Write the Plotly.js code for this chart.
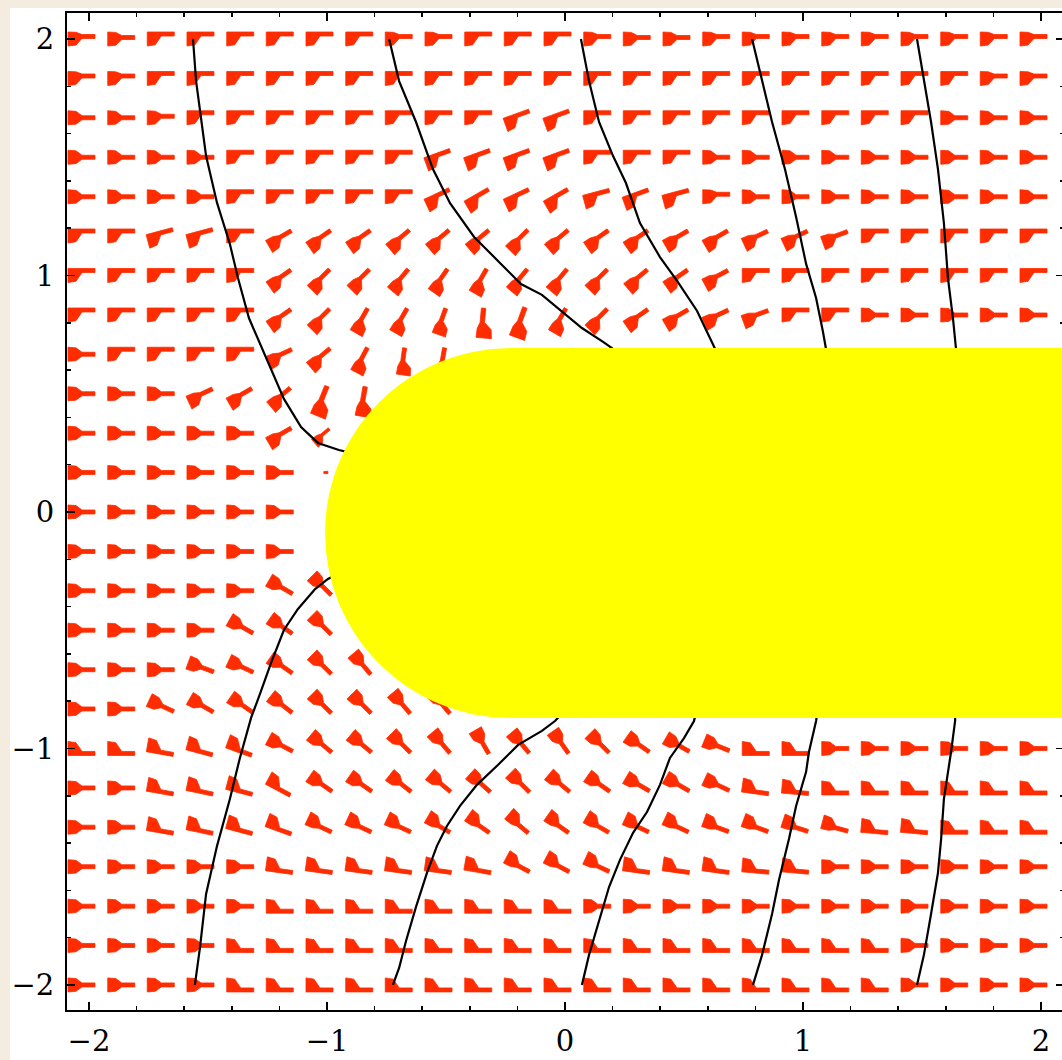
<!DOCTYPE html>
<html><head><meta charset="utf-8">
<script src="https://cdn.plot.ly/plotly-3.0.1.min.js"></script>
<style>
html,body{margin:0;padding:0;background:#f3ecdf;overflow:hidden;width:1062px;height:1060px;}
#chart{position:absolute;left:10px;top:8px;width:1060px;height:1052px;}
</style>
</head><body><div id="chart"></div>
<script>
const N = null;
// grid positions (data units)
const gridX = [-2,-1.833,-1.667,-1.5,-1.333,-1.167,-1,-0.833,-0.667,-0.5,-0.333,-0.167,0,0.167,0.333,0.5,0.667,0.833,1,1.167,1.333,1.5,1.667,1.833,2];
const gridY = [2,1.833,1.667,1.5,1.333,1.167,1,0.833,0.667,0.5,0.333,0.167,0,-0.167,-0.333,-0.5,-0.667,-0.833,-1,-1.167,-1.333,-1.5,-1.667,-1.833,-2];

// arrow direction (degrees, counter-clockwise from +x); null = hidden by the conductor
const arrowAngle = [
 [0,0,0,0,0,0,0,0,0,0,0,0,0,0,0,0,0,0,0,0,0,0,0,0,0],
 [0,0,0,0,0,0,0,0,0,0,0,0,0,0,0,0,0,0,0,0,0,0,0,0,0],
 [0,0,0,0,0,0,0,0,0,0,0,20,20,0,0,0,0,0,0,0,0,0,0,0,0],
 [0,0,0,0,0,0,0,0,0,20,20,20,20,0,0,0,0,0,0,0,0,0,0,0,0],
 [0,0,0,0,0,0,0,0,0,25,30,25,30,15,20,15,0,0,0,0,0,0,0,0,0],
 [0,0,15,15,0,30,35,35,40,40,40,45,40,35,35,30,30,25,25,20,0,0,0,0,0],
 [0,0,0,0,0,35,45,45,50,55,60,50,50,45,40,35,28,0,0,0,0,0,0,0,0],
 [0,0,0,0,0,35,45,60,60,70,85,70,60,45,35,30,25,20,0,0,0,0,0,0,0],
 [0,0,0,0,0,25,40,62,82,80,N,N,N,N,N,N,N,N,N,N,N,N,N,N,N],
 [0,0,0,25,30,40,68,80,N,N,N,N,N,N,N,N,N,N,N,N,N,N,N,N,N],
 [0,0,0,0,0,30,40,N,N,N,N,N,N,N,N,N,N,N,N,N,N,N,N,N,N],
 [0,0,0,0,0,0,0,N,N,N,N,N,N,N,N,N,N,N,N,N,N,N,N,N,N],
 [0,0,0,0,0,0,N,N,N,N,N,N,N,N,N,N,N,N,N,N,N,N,N,N,N],
 [0,0,0,0,0,0,N,N,N,N,N,N,N,N,N,N,N,N,N,N,N,N,N,N,N],
 [0,0,0,0,0,-30,-45,N,N,N,N,N,N,N,N,N,N,N,N,N,N,N,N,N,N],
 [0,0,0,0,-30,-35,-45,N,N,N,N,N,N,N,N,N,N,N,N,N,N,N,N,N,N],
 [0,0,0,-20,-25,-35,-45,-50,N,N,N,N,N,N,N,N,N,N,N,N,N,N,N,N,N],
 [0,0,-25,-30,-35,-38,-45,-45,-50,-50,N,N,N,N,N,N,N,N,N,N,N,N,N,N,N],
 [0,0,-10,-15,-20,-28,-40,-40,-45,-50,-60,-50,-55,-45,-35,-30,-22,0,0,0,0,0,0,0,0],
 [0,0,-10,-12,-15,-28,-35,-35,-38,-40,-42,-45,-40,-35,-30,-30,-25,-8,-5,0,0,0,0,0,0],
 [0,0,-10,-12,-15,-20,-25,-25,-25,-30,-35,-40,-35,-30,-25,-25,-20,-20,-18,-15,-5,-5,0,0,0],
 [0,0,0,0,0,-8,-8,-8,-8,-8,-10,-28,-28,-25,-8,-8,-8,-5,-5,0,0,0,0,0,0],
 [0,0,0,0,0,0,0,0,0,0,0,0,0,0,0,0,0,0,0,0,0,0,0,0,0],
 [0,0,0,0,0,0,0,0,0,0,0,0,0,0,0,0,0,0,0,0,0,0,0,0,0],
 [0,0,0,0,0,0,0,0,0,0,0,0,0,0,0,0,0,0,0,0,0,0,0,0,0]
];

// which side of the glyph the thin stroke sits on (+1 left/top, 0 middle, -1 right/bottom)
const arrowSide = [
 [0.5,0.3,1,1,1,1,1,1,0.5,0.5,1,1,1,0.5,0.3,0.3,0.5,0.5,0.5,0.5,0.5,0.5,0.5,0.5,0.5],
 [0.5,0.5,1,1,1,1,1,1,1,1,1,1,1,1,1,1,1,1,1,1,1,1,1,0.5,0.5],
 [0,0,0.3,1,1,1,1,1,1,1,1,1,1,1,1,1,1,1,1,1,1,1,0,0,0],
 [0,0,0,0,1,1,1,1,1,1,1,1,1,1,1,1,0,0,0,0,0,0,0,0,0],
 [0,0,0,0,1,1,1,1,1,1,1,1,1,1,1,1,0.5,0,0,0,0,0,0,0,0],
 [1,1,1,1,1,0.5,0.5,0.5,0.5,0.5,0.5,0.5,0.5,0.5,0.5,0.5,0.5,0.5,0.5,0.5,1,1,1,1,1],
 [1,1,1,1,1,0.5,0.5,0.5,0.5,0.5,0.5,0.5,0.5,0.5,0.5,0.5,0.5,1,1,1,1,1,1,1,1],
 [1,1,1,1,1,0.5,0.5,0.5,0.5,0.5,0.5,0.5,0.5,0.5,0.5,0.5,0.5,0.5,1,1,0,0,0,0,0],
 [0,1,1,1,1,0.5,0.5,0.5,0.5,0.5,0,0,0,0,0,0,0,0,0,0,0,0,0,0,0],
 [0,0,0,0.5,0.5,0.5,0.5,0.5,0,0,0,0,0,0,0,0,0,0,0,0,0,0,0,0,0],
 [0,0,0,0,0,0.5,0.5,0,0,0,0,0,0,0,0,0,0,0,0,0,0,0,0,0,0],
 [0,0,0,0,0,0,0,0,0,0,0,0,0,0,0,0,0,0,0,0,0,0,0,0,0],
 [0,0,0,0,0,0,0,0,0,0,0,0,0,0,0,0,0,0,0,0,0,0,0,0,0],
 [0,0,0,0,0,0,0,0,0,0,0,0,0,0,0,0,0,0,0,0,0,0,0,0,0],
 [0,0,0,0,0,0,0,0,0,0,0,0,0,0,0,0,0,0,0,0,0,0,0,0,0],
 [0,0,0,0,0,0,0,0,0,0,0,0,0,0,0,0,0,0,0,0,0,0,0,0,0],
 [0,0,0,0,0,0,0,0,0,0,0,0,0,0,0,0,0,0,0,0,0,0,0,0,0],
 [0,0,0,0,0,0,0,0,0,0,0,0,0,0,0,0,0,0,0,0,0,0,0,0,0],
 [-1,-1,-1,-1,-1,0,0,0,0,0,0,0,0,0,0,0,0,-1,-1,0,0,0,0,0,0],
 [0,0,-1,-1,-1,-1,0,0,0,0,0,0,0,0,0,0,0,-1,-1,-1,-1,-1,-1,-1,-1],
 [0,0,-1,-1,-1,-1,-0.5,-0.5,-0.5,-0.5,-0.5,-0.5,-0.5,-0.5,-0.5,-0.5,-0.5,-0.5,-0.5,-0.5,-1,-1,-1,-1,-1],
 [0,0,0,0,0,-1,-1,-1,-1,-1,-1,-0.5,-0.5,-0.5,-1,-1,-1,-1,-1,0,0,0,0,0,0],
 [0,0,0,0,0,-1,-1,-1,-1,-1,-1,-1,-1,0,0,0,0,0,0,0,0,0,0,0,0],
 [0,0,0,0,-1,-1,-1,-1,-1,-1,-1,-1,-1,-1,-1,-1,-1,-1,-1,-1,-1,0,0,0,0],
 [0,0,0,0,-1,-1,-1,-1,-1,-1,-1,-1,-1,-1,-1,-1,-1,-1,-1,-1,-1,0,0,0,0]
];

// glyphs whose size differs from the usual one: [row, column, relative size]
const arrowSizeExceptions = [[7,10,1.1],[7,11,1.15],[9,6,1.15],[9,7,1.1],[10,6,0.75],[11,6,0.15]];

// black curves
const line1X = [-1.563,-1.550,-1.508,-1.462,-1.408,-1.374,-1.328,-1.252,-1.181,-1.109,-1.038,-0.950,-0.900];
const line1Y = [2.0,1.822,1.505,1.307,1.133,0.989,0.820,0.647,0.478,0.359,0.292,0.262,0.250];
const line2X = [-0.739,-0.697,-0.626,-0.555,-0.483,-0.382,-0.269,-0.185,-0.097,-0.013,0.071,0.160,0.202,0.230];
const line2Y = [2.0,1.822,1.649,1.450,1.306,1.163,1.049,0.964,0.918,0.850,0.778,0.719,0.689,0.670];
const line3X = [0.067,0.101,0.143,0.202,0.256,0.315,0.399,0.471,0.555,0.613,0.634,0.640];
const line3Y = [2.0,1.822,1.649,1.505,1.391,1.222,1.078,0.977,0.850,0.732,0.689,0.670];
const line4X = [0.786,0.828,0.870,0.924,0.971,1.013,1.055,1.084,1.097,1.100];
const line4Y = [2.0,1.822,1.649,1.450,1.247,1.049,0.905,0.761,0.689,0.670];
const line5X = [1.479,1.508,1.538,1.567,1.592,1.609,1.630,1.643,1.645];
const line5Y = [2.0,1.822,1.649,1.450,1.222,0.989,0.820,0.689,0.670];
const line6X = [-0.970,-0.996,-1.050,-1.122,-1.181,-1.235,-1.277,-1.319,-1.366,-1.408,-1.462,-1.508,-1.534,-1.555];
const line6Y = [-0.270,-0.283,-0.326,-0.410,-0.499,-0.638,-0.757,-0.871,-1.040,-1.214,-1.412,-1.615,-1.844,-2.0];
const line7X = [-0.010,-0.042,-0.097,-0.197,-0.282,-0.370,-0.441,-0.496,-0.538,-0.580,-0.626,-0.668,-0.697,-0.723];
const line7Y = [-0.850,-0.884,-0.926,-0.985,-1.070,-1.154,-1.243,-1.328,-1.412,-1.526,-1.670,-1.814,-1.928,-2.0];
const line8X = [0.550,0.542,0.500,0.441,0.399,0.345,0.286,0.231,0.185,0.143,0.101,0.071];
const line8Y = [-0.850,-0.884,-0.956,-1.040,-1.154,-1.268,-1.357,-1.471,-1.586,-1.729,-1.873,-2.0];
const line9X = [1.060,1.055,1.025,1.013,0.971,0.941,0.899,0.870,0.828,0.790];
const line9Y = [-0.850,-0.884,-1.015,-1.099,-1.243,-1.383,-1.556,-1.700,-1.873,-2.0];
const line10X = [1.640,1.639,1.622,1.592,1.580,1.567,1.538,1.508,1.479];
const line10Y = [-0.850,-0.884,-1.015,-1.214,-1.387,-1.526,-1.700,-1.873,-2.0];

// conductor (yellow stadium)
const conductorCenter = [-0.231, -0.089];
const conductorRadius = [0.777, 0.782];

// axes
const xRange = [-2.0924, 2.0966];
const yRange = [-2.106, 2.110];
const tickVals = [-2,-1,0,1,2];

// ---- drawing ----
const plotW = 997, plotH = 997;
const pxX = plotW/(xRange[1]-xRange[0]);
const pxY = plotH/(yRange[1]-yRange[0]);

const sizeAt = {};
arrowSizeExceptions.forEach(e => { sizeAt[e[0]+'_'+e[1]] = e[2]; });

function lerp(a,b,t){ return a + (b-a)*t; }

const ax = [], ay = [];
for (let r = 0; r < gridY.length; r++) {
  for (let k = 0; k < gridX.length; k++) {
    const th = arrowAngle[r][k];
    if (th === null) continue;
    const s = arrowSide[r][k];
    const m = sizeAt[r+'_'+k] || 1;
    const t = th*Math.PI/180, cu = Math.cos(t), su = Math.sin(t);
    const h = 7*m, w = Math.max(1.2, 2*m);
    const u0 = -21*m, ua = -13*m, u1 = -7*m, u2 = 6*m;
    const c = s*(h-w);
    const topA = lerp(h, c+w, 0.12), botA = lerp(-h, c-w, 0.12);
    const pts = [[u0,-h],[u0,h],[ua,topA],[u1,c+w],[u2,c+w],[u2,c-w],[u1,c-w],[ua,botA],[u0,-h]];
    pts.forEach(p => {
      const px = p[0]*cu - p[1]*su, py = p[0]*su + p[1]*cu;
      ax.push(gridX[k] + px/pxX);
      ay.push(gridY[r] + py/pxY);
    });
    ax.push(null); ay.push(null);
  }
}

const lineSetsX = [line1X,line2X,line3X,line4X,line5X,line6X,line7X,line8X,line9X,line10X];
const lineSetsY = [line1Y,line2Y,line3Y,line4Y,line5Y,line6Y,line7Y,line8Y,line9Y,line10Y];
const lx = [], ly = [];
lineSetsX.forEach((xs,i) => { xs.forEach((v,j) => { lx.push(v); ly.push(lineSetsY[i][j]); }); lx.push(null); ly.push(null); });

const traces = [
  {type:'scatter', mode:'lines', x:ax, y:ay, fill:'toself', fillcolor:'#ff2c00',
   line:{color:'#ff2c00', width:0.8}, hoverinfo:'skip', showlegend:false},
  {type:'scatter', mode:'lines', x:lx, y:ly, line:{color:'#000000', width:2.2},
   hoverinfo:'skip', showlegend:false}
];

const cx = conductorCenter[0], cy = conductorCenter[1];
const rx = conductorRadius[0], ry = conductorRadius[1];
const shapes = [
  {type:'circle', xref:'x', yref:'y', x0:cx-rx, x1:cx+rx, y0:cy-ry, y1:cy+ry,
   fillcolor:'#ffff00', line:{width:0}, layer:'above'},
  {type:'rect', xref:'x', yref:'y', x0:cx, x1:xRange[1]+0.3, y0:cy-ry, y1:cy+ry,
   fillcolor:'#ffff00', line:{width:0}, layer:'above'}
];

const axisCommon = {
  showgrid:false, zeroline:false, showline:true, linecolor:'black', linewidth:2,
  mirror:'allticks', ticks:'inside', ticklen:8, tickwidth:1.5, tickcolor:'black',
  tickmode:'array', tickvals:tickVals,
  tickfont:{family:'DejaVu Serif, serif', size:29, color:'black'},
  minor:{dtick:0.2, tick0:0, ticks:'inside', ticklen:4, tickwidth:1.5, tickcolor:'black', showgrid:false},
  fixedrange:true
};

const layout = {
  width:1060, height:1052,
  margin:{l:57, r:6, t:5, b:50, pad:0},
  paper_bgcolor:'white', plot_bgcolor:'white',
  xaxis:Object.assign({}, axisCommon, {range:xRange, ticklabelstandoff:4}),
  yaxis:Object.assign({}, axisCommon, {range:yRange, ticklabelstandoff:5}),
  shapes:shapes,
  showlegend:false
};

Plotly.newPlot('chart', traces, layout, {staticPlot:true, displayModeBar:false});
</script>
</body></html>
